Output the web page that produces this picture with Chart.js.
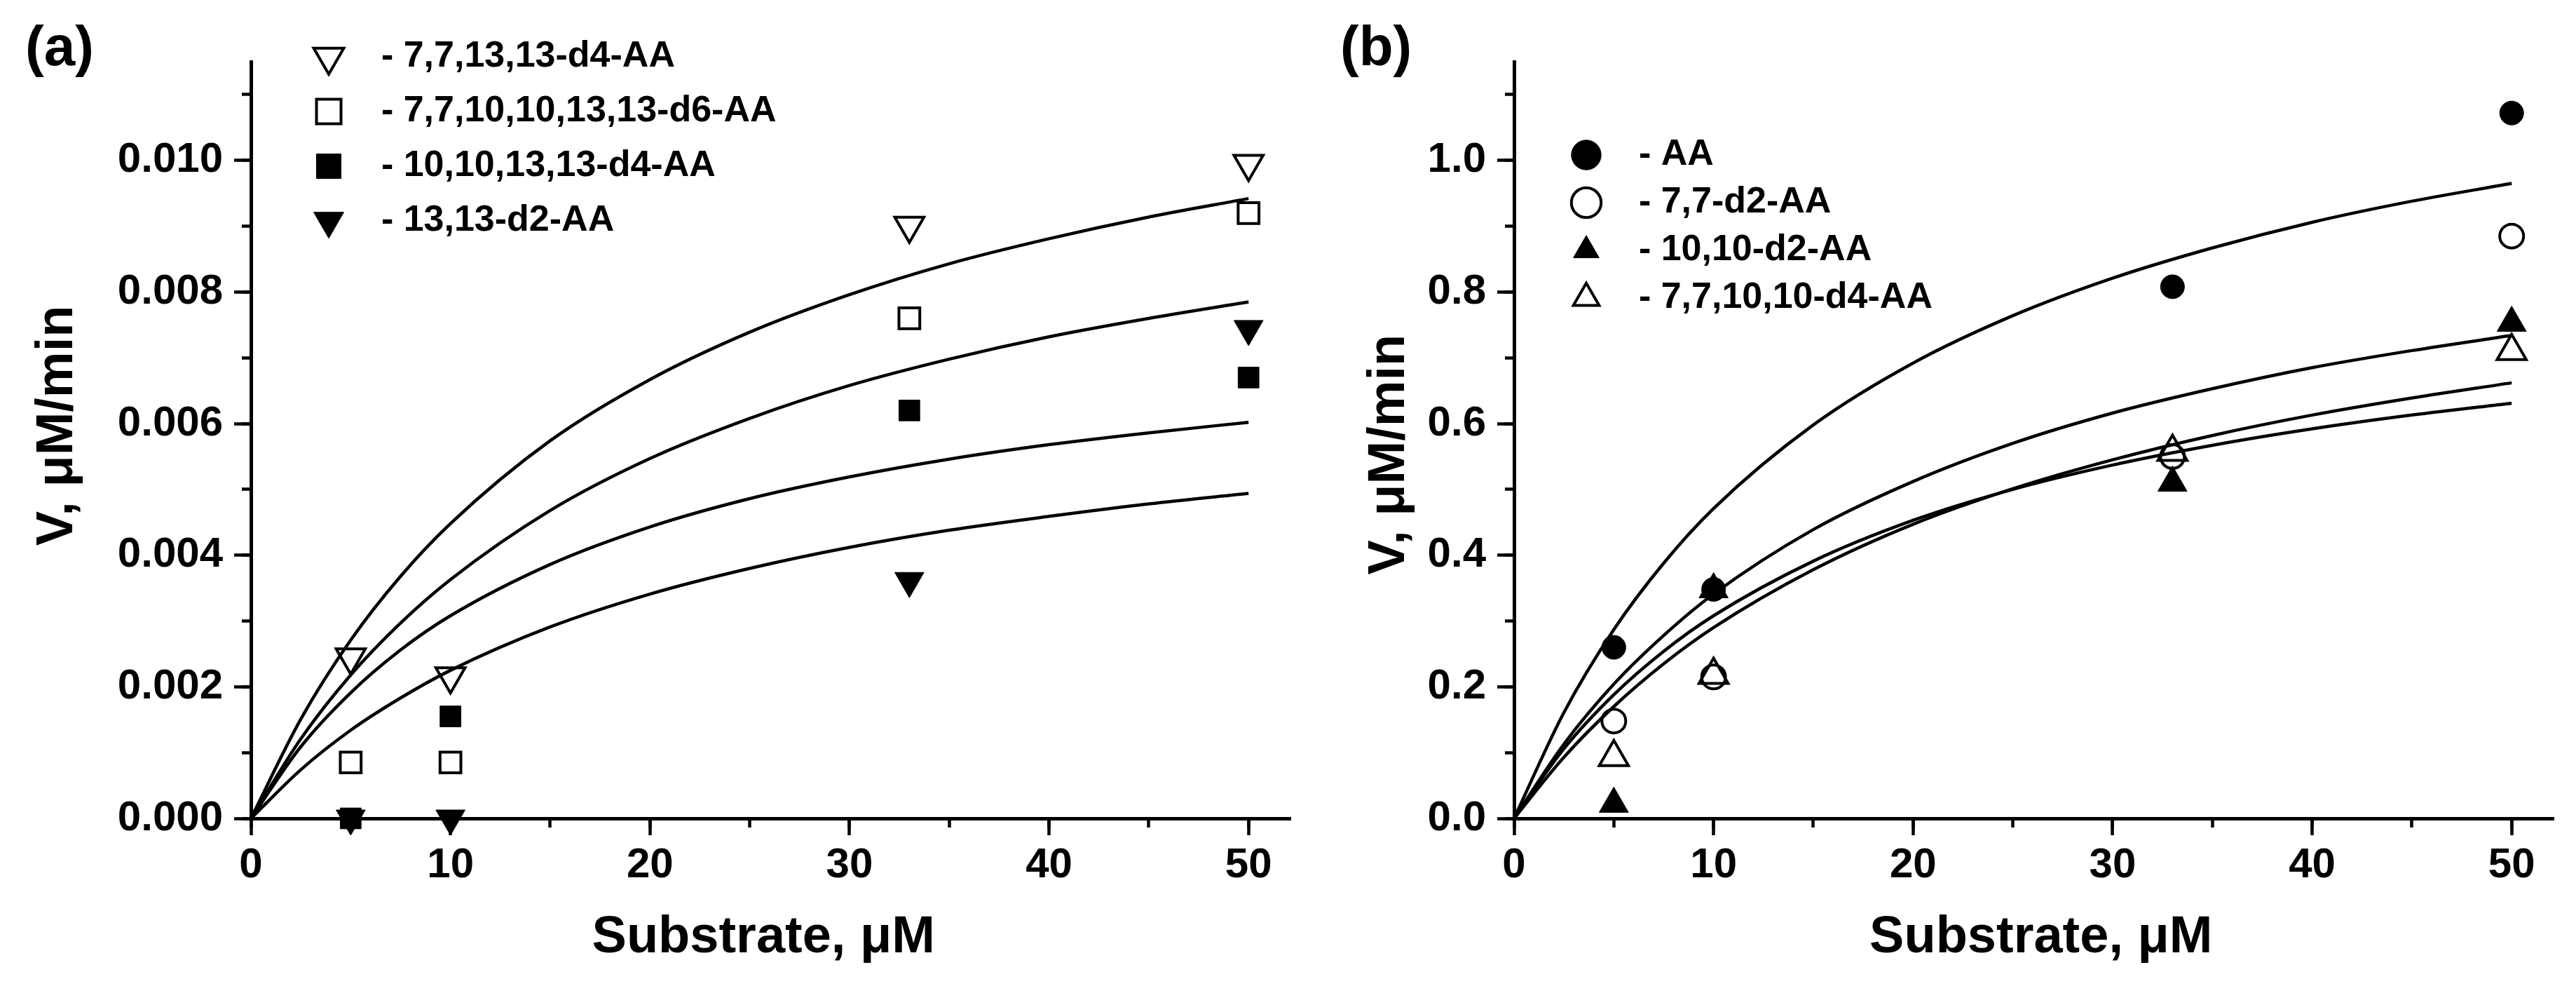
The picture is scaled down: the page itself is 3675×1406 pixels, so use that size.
<!DOCTYPE html>
<html>
<head>
<meta charset="utf-8">
<script src="https://cdn.jsdelivr.net/npm/chart.js@4.4.1/dist/chart.umd.min.js"></script>
<style>
  html, body { margin: 0; padding: 0; background: #ffffff; width: 3675px; height: 1406px; overflow: hidden; }
  #wa { position: absolute; left: 0; top: 0; width: 1880px; height: 1406px; }
  #wb { position: absolute; left: 1880px; top: 0; width: 1795px; height: 1406px; }
</style>
</head>
<body>
<div id="wa"><canvas id="ca" width="1880" height="1406"></canvas></div>
<div id="wb"><canvas id="cb" width="1795" height="1406"></canvas></div>
<script>
// ---------------- data ----------------
const substrate = [5, 10, 33, 50];                       // µM, measured points
const fitX = [0, 2.5, 5, 7.5, 10, 15, 20, 25, 30, 35, 40, 45, 50]; // µM, fitted curves

// panel (a) legend labels and measured rates (µM/min)
const labelsA = ['- 7,7,13,13-d4-AA', '- 7,7,10,10,13,13-d6-AA', '- 10,10,13,13-d4-AA', '- 13,13-d2-AA'];
const a_d4_771313 = [0.00245, 0.00216, 0.00901, 0.00995];
const a_d6 = [0.00085, 0.00085, 0.0076, 0.0092];
const a_d4_10101313 = [0.0, 0.00155, 0.0062, 0.0067];
const a_d2_1313 = [0.0, 0.0, 0.00361, 0.00744];

// panel (a) fitted curves
const a_fit1 = [0, 0.00151, 0.00271, 0.00368, 0.00448, 0.00574, 0.00667, 0.00739, 0.00796, 0.00843, 0.00881, 0.00914, 0.00942];
const a_fit2 = [0, 0.00121, 0.00218, 0.00297, 0.00363, 0.00468, 0.00547, 0.00608, 0.00658, 0.00698, 0.00732, 0.0076, 0.00785];
const a_fit3 = [0, 0.00109, 0.00191, 0.00256, 0.00308, 0.00386, 0.00443, 0.00486, 0.00519, 0.00546, 0.00568, 0.00586, 0.00602];
const a_fit4 = [0, 0.00074, 0.00134, 0.00183, 0.00225, 0.00291, 0.00341, 0.0038, 0.00412, 0.00438, 0.00459, 0.00478, 0.00494];

// panel (b) legend labels and measured rates (µM/min)
const labelsB = ['- AA', '- 7,7-d2-AA', '- 10,10-d2-AA', '- 7,7,10,10-d4-AA'];
const b_AA = [0.26, 0.348, 0.808, 1.072];
const b_d2_77 = [0.148, 0.215, 0.55, 0.885];
const b_d2_1010 = [0.022, 0.348, 0.51, 0.753];
const b_d4_771010 = [0.093, 0.218, 0.557, 0.71];

// panel (b) fitted curves
const b_fit1 = [0, 0.161, 0.287, 0.388, 0.471, 0.598, 0.692, 0.764, 0.821, 0.867, 0.906, 0.938, 0.965];
const b_fit2 = [0, 0.113, 0.204, 0.278, 0.341, 0.439, 0.512, 0.570, 0.616, 0.653, 0.685, 0.711, 0.734];
const b_fit3 = [0, 0.093, 0.170, 0.235, 0.290, 0.378, 0.447, 0.501, 0.545, 0.582, 0.613, 0.639, 0.662];
const b_fit4 = [0, 0.106, 0.188, 0.254, 0.308, 0.391, 0.453, 0.500, 0.537, 0.567, 0.592, 0.613, 0.631];

// axis texts
const xTitle = 'Substrate, \u03BCM';
const yTitle = 'V, \u03BCM/min';

// ---------------- helpers ----------------
const FONT = "'Liberation Sans', Arial, Helvetica, sans-serif";
Chart.defaults.font.family = FONT;
Chart.defaults.color = '#000';

function markerSet(label, ys, style, rotation, radius, filled) {
  const fillC = filled ? '#000000' : 'rgba(0,0,0,0)';
  return {
    label: '  ' + label,
    data: substrate.map((x, i) => ({ x: x, y: ys[i] })),
    showLine: false,
    pointStyle: style,
    pointRotation: rotation,
    pointRadius: radius,
    pointHoverRadius: radius,
    pointBackgroundColor: fillC,
    backgroundColor: fillC,
    pointBorderColor: '#000000',
    borderColor: '#000000',
    pointBorderWidth: filled ? 1 : 4,
    borderWidth: filled ? 1 : 4,
    clip: false,
    xAxisID: 'x',
    yAxisID: 'y'
  };
}

function fitSet(ys) {
  return {
    label: '',
    data: fitX.map((x, i) => ({ x: x, y: ys[i] })),
    showLine: true,
    pointRadius: 0,
    pointHoverRadius: 0,
    borderColor: '#000000',
    backgroundColor: '#000000',
    borderWidth: 4.5,
    cubicInterpolationMode: 'monotone',
    fill: false,
    xAxisID: 'x',
    yAxisID: 'y'
  };
}

function buildScales(o) {
  const tickFont = { family: FONT, size: 60, weight: 'bold' };
  const titleFont = { family: FONT, size: 74, weight: 'bold', lineHeight: 1 };
  const gridMajor = { drawOnChartArea: false, drawTicks: true, tickLength: 24, tickWidth: 4.5, tickColor: '#000' };
  const gridMinor = { drawOnChartArea: false, drawTicks: true, tickLength: 13, tickWidth: 4.5, tickColor: '#000' };
  return {
    x: {
      type: 'linear', position: 'bottom', min: 0, max: o.xMax,
      afterFit: (s) => { s.height = o.xBoxH; },
      ticks: { stepSize: 10, includeBounds: false, autoSkip: false, maxRotation: 0, font: tickFont, color: '#000', padding: 7 },
      grid: gridMajor,
      border: { display: true, color: '#000', width: 5 },
      title: { display: true, text: o.xTitleText, font: titleFont, color: '#000', padding: { top: 0, bottom: 31 } }
    },
    y: {
      type: 'linear', position: 'left', min: 0, max: o.yMax,
      afterFit: (s) => { s.width = o.yBoxW; },
      ticks: { stepSize: o.yStep, includeBounds: false, autoSkip: false, font: tickFont, color: '#000', padding: 16,
               callback: (v) => Number(v).toFixed(o.dec) },
      grid: gridMajor,
      border: { display: true, color: '#000', width: 5 },
      title: { display: true, text: o.yTitleText, font: titleFont, color: '#000', padding: { top: o.yTitlePad, bottom: 0 } }
    },
    xm: {
      type: 'linear', axis: 'x', position: { y: 0 }, min: 0, max: o.xMax,
      ticks: { display: false, stepSize: 5, includeBounds: false, autoSkip: false },
      grid: gridMinor,
      border: { display: false }
    },
    ym: {
      type: 'linear', axis: 'y', position: { x: 0 }, min: 0, max: o.yMax,
      ticks: { display: false, stepSize: o.yStep / 2, includeBounds: false, autoSkip: false },
      grid: gridMinor,
      border: { display: false }
    }
  };
}

function legendPlacer(left, top) {
  return {
    id: 'legendPlacer',
    afterLayout(chart) {
      const lg = chart.legend;
      if (!lg) return;
      const w = lg.width, h = lg.height;
      lg.left = left; lg.top = top;
      lg.right = left + w; lg.bottom = top + h;
    }
  };
}

function makeChart(canvasId, o) {
  return new Chart(document.getElementById(canvasId), {
    type: 'scatter',
    data: { datasets: o.datasets },
    options: {
      responsive: false,
      animation: false,
      devicePixelRatio: 1,
      events: [],
      layout: { padding: { left: o.padLeft, right: o.padRight, top: 0, bottom: 0 } },
      scales: buildScales(o),
      plugins: {
        tooltip: { enabled: false },
        title: {
          display: true, text: o.panel, align: 'start', color: '#000',
          font: { family: FONT, size: 80, weight: 'bold', lineHeight: 1.2 },
          padding: { top: 23, bottom: -31 }
        },
        legend: {
          display: true, position: 'chartArea', align: 'start',
          labels: {
            usePointStyle: true, boxHeight: o.legendBox, color: '#000',
            font: { family: FONT, size: 52, weight: 'bold' },
            padding: o.legendPad,
            filter: (item) => item.text !== ''
          }
        }
      }
    },
    plugins: [legendPlacer(o.legendLeft, o.legendTop)]
  });
}

// ---------------- panel (a) ----------------
makeChart('ca', {
  panel: '(a)',
  padLeft: 36, padRight: 39, yBoxW: 322, xBoxH: 239,
  xMax: 52.1, yMax: 0.0115, yStep: 0.002, dec: 3, yTitlePad: 10,
  xTitleText: xTitle + ' ', yTitleText: '  ' + yTitle,
  legendBox: 35, legendPad: 26, legendLeft: 423, legendTop: 29,
  datasets: [
    markerSet(labelsA[0], a_d4_771313, 'triangle', 180, 24, false),
    markerSet(labelsA[1], a_d6, 'rect', 0, 21, false),
    markerSet(labelsA[2], a_d4_10101313, 'rect', 0, 21, true),
    markerSet(labelsA[3], a_d2_1313, 'triangle', 180, 24, true),
    fitSet(a_fit1), fitSet(a_fit2), fitSet(a_fit3), fitSet(a_fit4)
  ]
});

// ---------------- panel (b) ----------------
makeChart('cb', {
  panel: '(b)',
  padLeft: 32, padRight: 32, yBoxW: 248, xBoxH: 239,
  xMax: 52.1, yMax: 1.15, yStep: 0.2, dec: 1, yTitlePad: 34,
  xTitleText: ' ' + xTitle, yTitleText: yTitle + '  ',
  legendBox: 30, legendPad: 16, legendLeft: 347, legendTop: 179,
  datasets: [
    markerSet(labelsB[0], b_AA, 'circle', 0, 17, true),
    markerSet(labelsB[1], b_d2_77, 'circle', 0, 17, false),
    markerSet(labelsB[2], b_d2_1010, 'triangle', 0, 24, true),
    markerSet(labelsB[3], b_d4_771010, 'triangle', 0, 24, false),
    fitSet(b_fit1), fitSet(b_fit2), fitSet(b_fit3), fitSet(b_fit4)
  ]
});
</script>
</body>
</html>
